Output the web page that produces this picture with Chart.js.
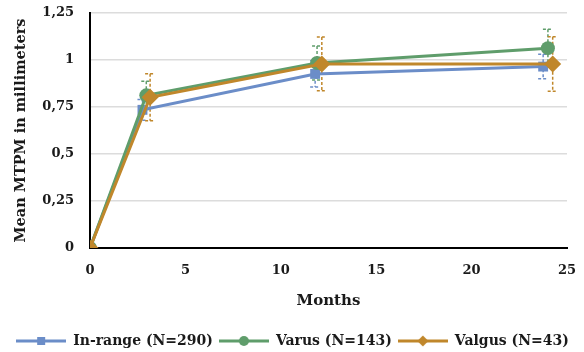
<!DOCTYPE html>
<html><head><meta charset="utf-8">
<script src="https://cdn.jsdelivr.net/npm/chart.js@4.4.1/dist/chart.umd.min.js"></script>
<style>html,body{margin:0;padding:0;background:#fff}#wrap{width:584px;height:352px;position:relative}</style>
</head><body><div id="wrap"><canvas id="c"></canvas></div>
<script>
const seriesNames = ['In-range (N=290)', 'Varus (N=143)', 'Valgus (N=43)'];
const inRangeMonths = [0, 2.75, 11.8, 23.75];
const inRangeMean   = [0, 0.735, 0.926, 0.965];
const inRangeErr    = [0, 0.055, 0.07, 0.065];
const varusMonths   = [0, 2.95, 11.9, 24.0];
const varusMean     = [0, 0.812, 0.984, 1.063];
const varusErr      = [0, 0.075, 0.09, 0.1];
const valgusMonths  = [0, 3.15, 12.15, 24.25];
const valgusMean    = [0, 0.802, 0.979, 0.979];
const valgusErr     = [0, 0.125, 0.143, 0.145];
const xTicks = [0, 5, 10, 15, 20, 25];
const yTicks = [0, 0.25, 0.5, 0.75, 1, 1.25];
const yTickLabels = ['0', '0,25', '0,5', '0,75', '1', '1,25'];

const colors = ['#6B8DC8', '#5F9D6B', '#C0872B'];
const styles = ['rect', 'circle', 'rectRot'];
const radii = [7, 7, 8.5];
const FONT = "'DejaVu Serif', serif";

function pts(xs, ys) { return xs.map((x, i) => ({x: x, y: ys[i]})); }

function legendIcon(color, style) {
  const c = document.createElement('canvas');
  c.width = 50; c.height = 14;
  const g = c.getContext('2d');
  g.strokeStyle = color; g.lineWidth = 3;
  g.beginPath(); g.moveTo(0, 7); g.lineTo(50, 7); g.stroke();
  g.fillStyle = color;
  if (style === 'rect') { g.fillRect(25 - 4, 3, 8, 8); }
  else if (style === 'circle') { g.beginPath(); g.arc(25, 7, 5, 0, Math.PI * 2); g.fill(); }
  else { g.beginPath(); g.moveTo(25, 1.5); g.lineTo(30.5, 7); g.lineTo(25, 12.5); g.lineTo(19.5, 7); g.closePath(); g.fill(); }
  return c;
}

const errs = [inRangeErr, varusErr, valgusErr];
const errorBars = {
  id: 'errorBars',
  beforeDatasetsDraw(chart) {
    const ctx = chart.ctx, xs = chart.scales.x, ys = chart.scales.y;
    chart.data.datasets.forEach((ds, di) => {
      const e = errs[di];
      ctx.save();
      ctx.strokeStyle = colors[di];
      ctx.lineWidth = 1.5;
      ctx.setLineDash([3, 2]);
      ds.data.forEach((p, i) => {
        if (!e[i]) return;
        const px = xs.getPixelForValue(p.x);
        const top = ys.getPixelForValue(p.y + e[i]);
        const bot = ys.getPixelForValue(p.y - e[i]);
        ctx.beginPath();
        ctx.moveTo(px, top); ctx.lineTo(px, bot);
        ctx.moveTo(px - 5, top); ctx.lineTo(px + 5, top);
        ctx.moveTo(px - 5, bot); ctx.lineTo(px + 5, bot);
        ctx.stroke();
      });
      ctx.restore();
    });
  }
};

const legendShift = {
  id: 'legendShift',
  afterLayout(chart) {
    const l = chart.legend;
    if (!l) return;
    l.left += 9; l.right += 9;
    l.top += 6; l.bottom += 6;
  }
};

const datasets = [
  [inRangeMonths, inRangeMean],
  [varusMonths, varusMean],
  [valgusMonths, valgusMean]
].map((d, i) => ({
  label: seriesNames[i],
  data: pts(d[0], d[1]),
  borderColor: colors[i],
  backgroundColor: colors[i],
  borderWidth: 3,
  pointStyle: styles[i],
  pointRadius: radii[i],
  pointBorderWidth: 0,
  pointBackgroundColor: colors[i],
  tension: 0,
  order: 2 - i
}));

new Chart(document.getElementById('c'), {
  type: 'line',
  data: { datasets: datasets },
  plugins: [errorBars, legendShift],
  options: {
    responsive: true,
    maintainAspectRatio: false,
    animation: false,
    layout: { padding: { left: 0, right: 17, top: 0, bottom: 0 } },
    plugins: {
      tooltip: { enabled: false },
      legend: {
        position: 'bottom',
        labels: {
          usePointStyle: true,
          pointStyleWidth: 50,
          padding: 6,
          color: '#1a1a1a',
          font: { family: FONT, size: 14, weight: 'bold' },
          generateLabels(chart) {
            return chart.data.datasets.map((ds, i) => ({
              text: ds.label,
              pointStyle: legendIcon(colors[i], styles[i]),
              fillStyle: colors[i], strokeStyle: colors[i], lineWidth: 0,
              fontColor: '#1a1a1a', hidden: false, datasetIndex: i
            }));
          }
        }
      }
    },
    scales: {
      x: {
        type: 'linear', min: 0, max: 25,
        afterBuildTicks(s) { s.ticks = xTicks.map(v => ({value: v})); },
        afterFit(s) { s.height = 74; s.paddingLeft = 0; s.paddingRight = 0; },
        grid: { display: false, drawTicks: false },
        border: { display: true, color: '#000', width: 2 },
        ticks: { padding: 15, color: '#1a1a1a', font: { family: FONT, size: 13, weight: 'bold' } },
        title: { display: true, text: 'Months', color: '#1a1a1a', padding: { top: 4, bottom: 12 }, font: { family: FONT, size: 15, weight: 'bold' } }
      },
      y: {
        min: 0, max: 1.25,
        afterBuildTicks(s) { s.ticks = yTicks.map(v => ({value: v})); },
        afterFit(s) { s.width = 90; s.paddingTop = 13; s.paddingBottom = 0; },
        grid: { color: '#dcdcdc', lineWidth: 1.5, drawTicks: false },
        border: { display: true, color: '#000', width: 2 },
        ticks: {
          padding: 16, color: '#1a1a1a', font: { family: FONT, size: 13, weight: 'bold' },
          callback(v) { const i = yTicks.indexOf(v); return i >= 0 ? yTickLabels[i] : ''; }
        },
        title: { display: true, text: 'Mean MTPM in millimeters', color: '#1a1a1a', padding: { top: 13, bottom: 6 }, font: { family: FONT, size: 14.5, weight: 'bold' } }
      }
    }
  }
});
</script>
</body></html>
